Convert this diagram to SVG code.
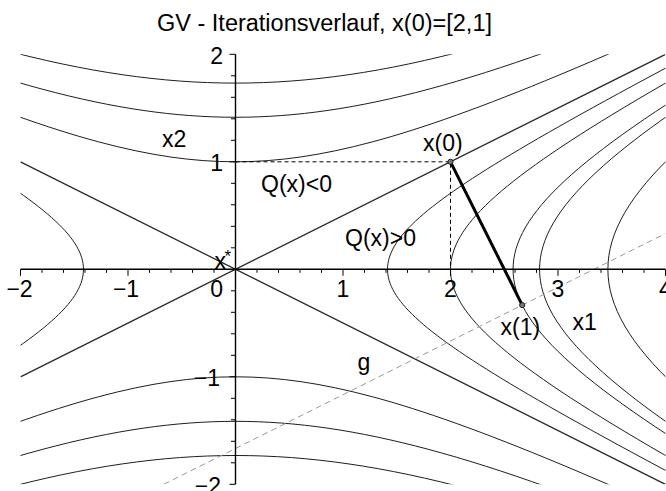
<svg xmlns="http://www.w3.org/2000/svg" width="666" height="491" viewBox="0 0 666 491">
<style>
text { font-family: "Liberation Sans", Arial, sans-serif; font-size: 23px; fill: #000; }
.asym { stroke: #2a2a2a; stroke-width: 1.3; fill: none; }
.axis { stroke: #000; stroke-width: 1.4; fill: none; }
.tick { stroke: #000; stroke-width: 1; fill: none; }
.guide { stroke: #000; stroke-width: 1; stroke-dasharray: 4 3; fill: none; }
.gline { stroke: #9a9a9a; stroke-width: 1; stroke-dasharray: 6 4; fill: none; }
.step { stroke: #000; stroke-width: 3; fill: none; stroke-linecap: round; }
.pt { fill: #777; stroke: #111; stroke-width: 0.9; }
</style>
<defs>
<clipPath id="plot"><rect x="20.5" y="54.3" width="645" height="430"/></clipPath>
<path id="hyp" fill="none" stroke="#1e1e1e" stroke-width="1" vector-effect="non-scaling-stroke" d="M3.107473,-2.942174 C2.813256,-2.631427 2.565338,-2.364520 2.352410,-2.129279 C2.139482,-1.894038 1.961602,-1.690527 1.810656,-1.509461 C1.659710,-1.328395 1.535738,-1.169826 1.433086,-1.026517 C1.330434,-0.883208 1.249130,-0.755201 1.185465,-0.636654 C1.121800,-0.518107 1.075791,-0.409054 1.045339,-0.304520 C1.014887,-0.199986 1,-0.1 1,0 C1,0.1 1.014887,0.199986 1.045339,0.304520 C1.075791,0.409054 1.121800,0.518107 1.185465,0.636654 C1.249130,0.755201 1.330434,0.883208 1.433086,1.026517 C1.535738,1.169826 1.659710,1.328395 1.810656,1.509461 C1.961602,1.690527 2.139482,1.894038 2.352410,2.129279 C2.565338,2.364520 2.813256,2.631427 3.107473,2.942174"/>
</defs>

<text id="title" x="324.5" y="31" text-anchor="middle" style="font-size:23.5px">GV - Iterationsverlauf, x(0)=[2,1]</text>

<g id="levelcurves" clip-path="url(#plot)">
<use href="#hyp" transform="matrix(152.028 0 0 -76.014 235.5 269.3)"/>
<use href="#hyp" transform="matrix(-152.028 0 0 -76.014 235.5 269.3)"/>
<use href="#hyp" transform="matrix(215 0 0 -107.5 235.5 269.3)"/>
<use href="#hyp" transform="matrix(277.564 0 0 -138.782 235.5 269.3)"/>
<use href="#hyp" transform="matrix(304.056 0 0 -152.028 235.5 269.3)"/>
<use href="#hyp" transform="matrix(372.391 0 0 -186.196 235.5 269.3)"/>
<use href="#hyp" transform="matrix(0 -107.5 215 0 235.5 269.3)"/>
<use href="#hyp" transform="matrix(0 107.5 215 0 235.5 269.3)"/>
<use href="#hyp" transform="matrix(0 -152.028 304.056 0 235.5 269.3)"/>
<use href="#hyp" transform="matrix(0 152.028 304.056 0 235.5 269.3)"/>
<use href="#hyp" transform="matrix(0 -186.196 372.391 0 235.5 269.3)"/>
<use href="#hyp" transform="matrix(0 186.196 372.391 0 235.5 269.3)"/>
<path class="asym" d="M20.5,376.8 L665.5,54.3 M20.5,161.8 L665.5,484.3"/>
<path class="gline" d="M163.8,484.3 L665.5,233.5"/>
</g>

<g id="axes">
<path class="axis" d="M20.5,269.3 H665.5 M235.5,54.3 V484.3"/>
<path class="tick" d="M20.5,269.3v6.5 M128,269.3v6.5 M235.5,269.3v6.5 M343,269.3v6.5 M450.5,269.3v6.5 M558,269.3v6.5 M665.5,269.3v6.5 M42,269.3v3.5 M63.5,269.3v3.5 M85,269.3v3.5 M106.5,269.3v3.5 M149.5,269.3v3.5 M171,269.3v3.5 M192.5,269.3v3.5 M214,269.3v3.5 M257,269.3v3.5 M278.5,269.3v3.5 M300,269.3v3.5 M321.5,269.3v3.5 M364.5,269.3v3.5 M386,269.3v3.5 M407.5,269.3v3.5 M429,269.3v3.5 M472,269.3v3.5 M493.5,269.3v3.5 M515,269.3v3.5 M536.5,269.3v3.5 M579.5,269.3v3.5 M601,269.3v3.5 M622.5,269.3v3.5 M644,269.3v3.5 M235.5,484.3h-6 M235.5,376.8h-6 M235.5,161.8h-6 M235.5,54.3h-6 M235.5,462.8h-4.5 M235.5,441.3h-4.5 M235.5,419.8h-4.5 M235.5,398.3h-4.5 M235.5,355.3h-4.5 M235.5,333.8h-4.5 M235.5,312.3h-4.5 M235.5,290.8h-4.5 M235.5,247.8h-4.5 M235.5,226.3h-4.5 M235.5,204.8h-4.5 M235.5,183.3h-4.5 M235.5,140.3h-4.5 M235.5,118.8h-4.5 M235.5,97.3h-4.5 M235.5,75.8h-4.5"/>
<g id="xlabels" text-anchor="middle">
<text x="19.5" y="297">−2</text>
<text x="126" y="297">−1</text>
<text x="343" y="297">1</text>
<text x="450.5" y="297">2</text>
<text x="558" y="297">3</text>
<text x="665.5" y="297">4</text>
</g>
<g id="ylabels" text-anchor="end">
<text x="223" y="297">0</text>
<text x="223" y="64">2</text>
<text x="223" y="171.3">1</text>
<text x="220" y="386.3">−1</text>
<text x="221" y="493.8">−2</text>
</g>
</g>

<g id="iteration">
<path class="guide" d="M235.5,161.8 H450.5 V269.3"/>
<path class="step" d="M450.5,161.8 L522.2,305.1"/>
<circle class="pt" cx="450.5" cy="161.8" r="2.6"/>
<circle class="pt" cx="522.2" cy="305.1" r="2.6"/>
</g>

<g id="labels">
<text x="162" y="147">x2</text>
<text x="423" y="151">x(0)</text>
<text x="261" y="191.5">Q(x)&lt;0</text>
<text x="345" y="246">Q(x)&gt;0</text>
<text x="214.5" y="269">x<tspan x="224.5" y="262" style="font-size:17px">*</tspan></text>
<text x="500.5" y="335">x(1)</text>
<text x="572.5" y="330">x1</text>
<text x="357.5" y="370">g</text>
</g>
</svg>
